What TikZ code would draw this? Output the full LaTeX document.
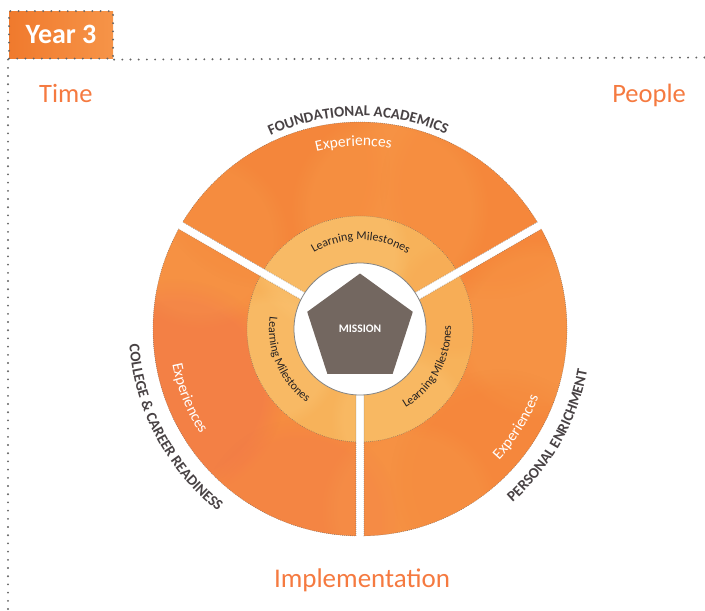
\documentclass[tikz,border=0pt]{standalone}
\usepackage{fontspec}
\setmainfont{Carlito}
\usetikzlibrary{decorations.text,shapes.geometric,fadings}

\definecolor{accent}{RGB}{245,122,64}
\definecolor{yearA}{RGB}{240,122,45}
\definecolor{yearB}{RGB}{246,148,72}
\definecolor{ringouter}{RGB}{246,140,64}
\definecolor{ringred}{RGB}{240,108,80}
\definecolor{ringgold}{RGB}{249,166,80}
\definecolor{ringdeep}{RGB}{243,124,50}
\definecolor{ringinner}{RGB}{247,178,90}
\definecolor{ringinnerlight}{RGB}{251,196,115}
\definecolor{slate}{RGB}{115,103,96}
\definecolor{labelgray}{RGB}{72,66,68}
\definecolor{milestone}{RGB}{38,34,34}
\definecolor{dotgray}{RGB}{100,100,100}

\newcommand\ringfont{\fontsize{15}{15}\selectfont\bfseries}
\newcommand\expfont{\fontsize{15.5}{15.5}\selectfont}
\newcommand\msfont{\fontsize{12}{12}\selectfont}

\tikzset{
  framedots/.style={draw=dotgray, line width=2.1pt, line cap=round, dash pattern=on 0pt off 8.2pt},
  segline/.style={draw=dotgray, line width=0.7pt, line cap=round, dash pattern=on 0pt off 2pt},
  blob/.style={path fading=circle with fuzzy edge 20 percent},
  arctext/.style 2 args={decorate, decoration={text along path, text align=center,
      text color=#1, text={#2}}},
  corner/.style={text=accent, font=\fontsize{26.5}{26.5}\selectfont}
}

\begin{document}
\begin{tikzpicture}[x=1pt,y=1pt]
\useasboundingbox (0,0) rectangle (705,-611);

% title tab and dotted frame
\node (year) [anchor=north west, minimum width=104pt, minimum height=47.5pt, inner sep=0pt,
  left color=yearA, right color=yearB, framedots, text=white,
  font=\fontsize{28}{28}\selectfont\bfseries] at (8,-10) {Year 3};
\coordinate (frameright) at (705,-57.5);
\coordinate (framebottom) at (8,-611);
\draw[framedots] (year.south east) -- (frameright);
\draw[framedots] (year.south west) -- (framebottom);

% corner labels
\node (time) [corner, anchor=base west, inner sep=0pt] at (39,-102.3) {Time};
\node (people) [corner, anchor=base east, inner sep=0pt] at (686,-102.3) {People};
\node (impl) [corner, anchor=base, inner sep=0pt, font=\fontsize{27}{27}\selectfont] at (362,-587.5) {Implementation};

\begin{scope}[shift={(360,-329)}]
  % outer ring with soft watercolour patches
  \fill[ringouter] (0,0) circle[radius=207];
  \begin{scope}
    \clip (0,0) circle[radius=207];
    \fill[ringred, opacity=0.35, blob] (-185,-60) circle[radius=110];
    \fill[ringred, opacity=0.2, blob] (-60,-190) circle[radius=100];
    \fill[ringdeep, opacity=0.35, blob] (-90,160) circle[radius=120];
    \fill[ringdeep, opacity=0.3, blob] (130,140) circle[radius=110];
    \fill[ringgold, opacity=0.25, blob] (30,120) circle[radius=100];
    \fill[ringgold, opacity=0.25, blob] (180,0) circle[radius=90];
    \fill[ringgold, opacity=0.2, blob] (-160,90) circle[radius=90];
    \fill[ringdeep, opacity=0.25, blob] (140,-150) circle[radius=110];
    \fill[ringgold, opacity=0.2, blob] (50,-180) circle[radius=90];
  \end{scope}
  % inner ring
  \fill[ringinner] (0,0) circle[radius=113];
  \begin{scope}
    \clip (0,0) circle[radius=113];
    \fill[ringinnerlight, opacity=0.45, blob] (-30,75) circle[radius=80];
    \fill[ringinnerlight, opacity=0.4, blob] (-90,-30) circle[radius=70];
    \fill[ringgold, opacity=0.35, blob] (95,30) circle[radius=60];
    \fill[ringinnerlight, opacity=0.35, blob] (40,-90) circle[radius=70];
  \end{scope}

  % white gaps between the three sectors
  \foreach \g in {-90,30,150}
    \fill[white, rotate=\g] (40,-4) rectangle (215,4);

  % dotted sector outlines
  \foreach \a/\b in {-90/30, 30/150, 150/270} {
    \draw[segline] ({\a+1.107}:207) arc[start angle=\a+1.107, end angle=\b-1.107, radius=207]
      -- ({\b-2.029}:113) arc[start angle=\b-2.029, end angle=\a+2.029, radius=113] -- cycle;
    \draw[segline] ({\a+2.029}:113) -- ({\a+3.475}:66);
    \draw[segline] ({\b-2.029}:113) -- ({\b-3.475}:66);
  }

  % hub and mission
  \node (hub) [circle, fill=white, draw=dotgray!80, line width=0.8pt, minimum size=132pt, inner sep=0pt] at (0,0) {};
  \node (mission) [regular polygon, regular polygon sides=5, minimum size=111pt, inner sep=0pt,
    fill=slate, text=white, font=\fontsize{11.5}{11.5}\selectfont\bfseries] at (0,0) {MISSION};

  % sector titles
  \path[arctext={labelgray}{|\ringfont|FOUNDATIONAL ACADEMICS}]
    (150.5:213) arc[start angle=150.5, end angle=30.5, radius=213];
  \path[arctext={labelgray}{|\ringfont|COLLEGE {\&} CAREER READINESS}]
    (168:231) arc[start angle=168, end angle=248, radius=231];
  \path[arctext={labelgray}{|\ringfont|PERSONAL ENRICHMENT}]
    (-69.5:231) arc[start angle=-69.5, end angle=10.5, radius=231];

  % experiences
  \path[arctext={white}{|\expfont|Experiences}]
    (152:183) arc[start angle=152, end angle=32, radius=183];
  \path[arctext={white}{|\expfont|Experiences}]
    (167:191) arc[start angle=167, end angle=237, radius=191];
  \path[arctext={white}{|\expfont|Experiences}]
    (-67:191) arc[start angle=-67, end angle=3, radius=191];

  % learning milestones
  \path[arctext={milestone}{|\msfont|Learning Milestones}]
    (149.5:89) arc[start angle=149.5, end angle=29.5, radius=89];
  \path[arctext={milestone}{|\msfont|Learning Milestones}]
    (148:91) arc[start angle=148, end angle=258, radius=91];
  \path[arctext={milestone}{|\msfont|Learning Milestones}]
    (-84:91) arc[start angle=-84, end angle=26, radius=91];
\end{scope}
\end{tikzpicture}
\end{document}
